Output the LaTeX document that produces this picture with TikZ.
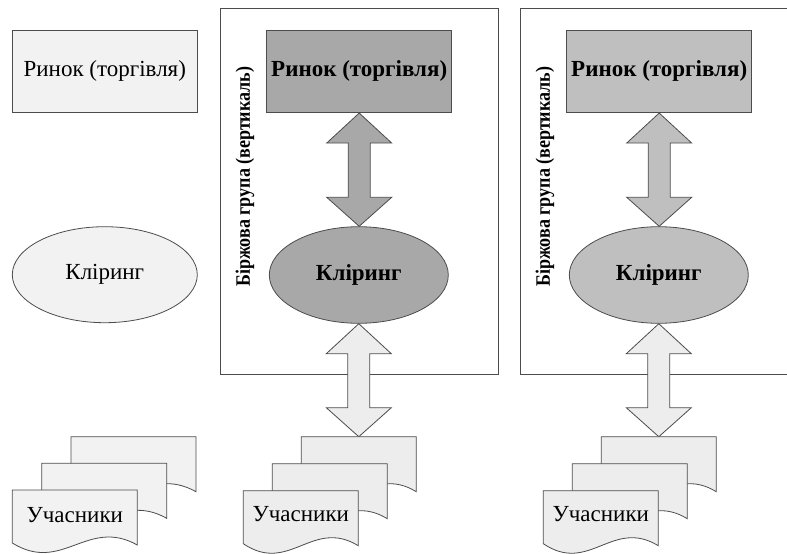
\documentclass[tikz,border=0pt]{standalone}
\usepackage{fontspec}
\setmainfont{Liberation Serif}
\usetikzlibrary{shapes.geometric,calc}
\definecolor{linec}{gray}{0.3}
\definecolor{lightf}{gray}{0.95}
\definecolor{docf}{gray}{0.93}
\definecolor{midf}{gray}{0.66}
\definecolor{rightf}{gray}{0.75}
\newcommand\docsh[4]{%
  \draw[linec, fill=#4] (#1,#2) -- ({#1+#3},#2) -- ({#1+#3},{#2+55})
    .. controls ({#1+0.6*#3},{#2+55-28}) and ({#1+0.4*#3},{#2+53+31}) .. (#1,{#2+53}) -- cycle;}
\newcommand\fatarr[3]{%
  \path[draw=linec, fill=#3] let \p1=(#1), \p2=(#2) in
    (\x1,\y1) -- (\x1+32.5pt,\y1-30pt) -- (\x1+11pt,\y1-30pt) -- (\x1+11pt,\y2+29pt)
    -- (\x1+32.5pt,\y2+29pt) -- (\x1,\y2) -- (\x1-32.5pt,\y2+29pt) -- (\x1-11pt,\y2+29pt)
    -- (\x1-11pt,\y1-30pt) -- (\x1-32.5pt,\y1-30pt) -- cycle;}
\tikzset{
  box/.style={draw=linec, rectangle, minimum width=185pt, minimum height=82.7pt, inner sep=0pt},
  ell/.style={draw=linec, ellipse, inner sep=0pt},
  txt/.style={font=\fontsize{23}{27}\selectfont},
  btxt/.style={font=\bfseries\fontsize{23}{27}\selectfont},
  vtxt/.style={rotate=90, font=\bfseries\fontsize{20.5}{24}\selectfont, inner sep=0pt},
  grp/.style={draw=linec},
}
\begin{document}
\begin{tikzpicture}[x=1pt,y=-1pt,line width=0.8pt]
\useasboundingbox (0,0) rectangle (787,554);
% group boxes
\draw[grp] (220.3,8.7) rectangle (498,374.3);
\draw[grp] (787,8.7) -- (520.3,8.7) -- (520.3,374.3) -- (787,374.3);
\node[vtxt] (g1) at (245,176.7) {\scalebox{0.88}[1]{Біржова група (вертикаль)}};
\node[vtxt] (g2) at (545,176.7) {\scalebox{0.88}[1]{Біржова група (вертикаль)}};
% left column
\node[box, fill=lightf, txt] (lr) at (104.8,71.3) {Ринок (торгівля)};
\node[ell, fill=lightf, txt, minimum width=185pt, minimum height=96pt] (le) at (104.8,274.7) {Кліринг};
\docsh{71}{436.7}{125}{lightf}
\docsh{41.7}{463.3}{125}{lightf}
\docsh{12.3}{490}{125}{lightf}
\node[txt] (ld) at (74.8,515) {Учасники};
% middle column
\node[box, fill=midf, btxt] (mr) at (359.2,71.3) {Ринок (торгівля)};
\node[ell, fill=midf, btxt, minimum width=179pt, minimum height=96.6pt] (me) at (358.8,275) {Кліринг};
\coordinate (mdt) at (358.8,436.7);
\fatarr{mr.south}{me.north}{midf}
\fatarr{me.south}{mdt}{docf}
\docsh{301.3}{436.7}{115}{docf}
\docsh{272.3}{463.7}{115}{docf}
\docsh{243.3}{490.7}{115}{docf}
\node[txt] (md) at (300.8,514) {Учасники};
% right column
\node[box, fill=rightf, btxt] (rr) at (659.2,71.3) {Ринок (торгівля)};
\node[ell, fill=rightf, btxt, minimum width=179pt, minimum height=96.6pt] (re) at (658.8,275) {Кліринг};
\coordinate (rdt) at (658.8,436.7);
\fatarr{rr.south}{re.north}{rightf}
\fatarr{re.south}{rdt}{docf}
\docsh{601.3}{436.7}{115}{docf}
\docsh{572.3}{463.7}{115}{docf}
\docsh{543.3}{490.7}{115}{docf}
\node[txt] (rd) at (600.8,514) {Учасники};
\end{tikzpicture}
\end{document}
